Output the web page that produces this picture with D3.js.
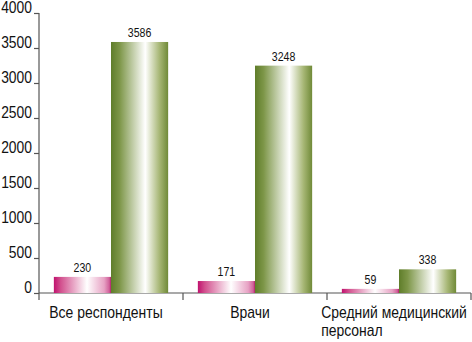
<!DOCTYPE html>
<html lang="ru">
<head>
<meta charset="UTF-8">
<title>Респонденты</title>
<script src="https://d3js.org/d3.v7.min.js"></script>
<style>
    body { margin: 0; background: #fff; }
    svg { display: block; font-family: "Liberation Sans", Arial, sans-serif; }
    .axis path, .axis line { stroke: #555; stroke-width: 1.2; }
    .ytick { font-size: 16.5px; fill: #111; }
    .xlab { font-size: 17px; fill: #111; }
    .val { font-size: 12px; fill: #111; text-anchor: middle; }
</style>
</head>
<body>
<svg id="chart" width="472" height="342"></svg>
<script>
    const categories = ["Все респонденты", "Врачи", "Средний медицинский персонал"];
    const seriesA = [230, 171, 59];      // розовые столбцы
    const seriesB = [3586, 3248, 338];   // зелёные столбцы
    const yTicks = [0, 500, 1000, 1500, 2000, 2500, 3000, 3500, 4000];

    const data = categories.map((c, i) => ({ cat: c, values: [
        { key: "a", value: seriesA[i] },
        { key: "b", value: seriesB[i] }
    ]}));

    // узкий шрифт: сжимаем текст по горизонтали
    function condense(sel, k) {
        sel.each(function() {
            const w = this.getComputedTextLength();
            d3.select(this).attr("textLength", w * k).attr("lengthAdjust", "spacingAndGlyphs");
        });
    }

    const svg = d3.select("#chart");
    const mLeft = 39, mRight = 471, mTop = 13, mBottom = 293;

    const defs = svg.append("defs");
    const pink = defs.append("linearGradient").attr("id", "gPink");
    [[0, "#c0126e"], [0.12, "#d2508e"], [0.58, "#ffffff"], [0.88, "#e7a2c4"], [0.97, "#d0609a"], [1, "#b02068"]]
        .forEach(s => pink.append("stop").attr("offset", s[0]).attr("stop-color", s[1]));
    const green = defs.append("linearGradient").attr("id", "gGreen");
    [[0, "#5f7d2a"], [0.15, "#7d9648"], [0.6, "#ffffff"], [0.85, "#a6b674"], [1, "#708a38"]]
        .forEach(s => green.append("stop").attr("offset", s[0]).attr("stop-color", s[1]));
    const fills = { a: "url(#gPink)", b: "url(#gGreen)" };

    const x0 = d3.scaleBand().domain(categories).range([mLeft, mRight]).padding(0);
    const x1 = d3.scaleBand().domain(["a", "b"]).range([0, x0.bandwidth()])
        .paddingInner(0).paddingOuter(0.26);
    const y = d3.scaleLinear().domain([0, 4000]).range([mBottom, mTop]);

    // ось Y
    const yAxis = svg.append("g").attr("class", "axis")
        .attr("transform", `translate(${mLeft},0)`)
        .call(d3.axisLeft(y).tickValues(yTicks).tickFormat(d3.format("d"))
            .tickSize(5).tickSizeOuter(0).tickPadding(2));
    yAxis.select(".domain").attr("d", `M0,${mTop}V${mBottom + 7}`);
    yAxis.selectAll("text").attr("class", "ytick").attr("dy", "-0.02em").attr("font-size", null)
        .attr("font-family", null).call(condense, 0.84);

    // ось X
    const xAxis = svg.append("g").attr("class", "axis")
        .attr("transform", `translate(0,${mBottom})`);
    xAxis.append("line").attr("x1", mLeft).attr("x2", mRight).attr("y1", 0).attr("y2", 0);
    xAxis.selectAll(".tk").data(categories).enter().append("line")
        .attr("x1", d => x0(d) + x0.bandwidth()).attr("x2", d => x0(d) + x0.bandwidth())
        .attr("y1", 0).attr("y2", 7);

    const g = svg.selectAll(".grp").data(data).enter().append("g")
        .attr("transform", d => `translate(${x0(d.cat)},0)`);

    g.selectAll("rect").data(d => d.values).enter().append("rect")
        .attr("x", d => x1(d.key))
        .attr("y", d => y(d.value))
        .attr("width", x1.bandwidth())
        .attr("height", d => y(0) - y(d.value))
        .attr("fill", d => fills[d.key]);

    g.selectAll(".val").data(d => d.values).enter().append("text")
        .attr("class", "val")
        .attr("x", d => x1(d.key) + x1.bandwidth() / 2)
        .attr("y", d => y(d.value) - 5)
        .text(d => d.value)
        .call(condense, 0.88);

    // подписи категорий (блок по центру, строки выровнены влево)
    const labelLines = { "Средний медицинский персонал": ["Средний медицинский", "персонал"] };
    const k = 0.82;
    categories.forEach(c => {
        const lines = labelLines[c] || [c];
        const t = svg.append("text").attr("class", "xlab").attr("y", mBottom + 25);
        const spans = lines.map((l, i) => t.append("tspan").attr("dy", i ? 18 : 0).text(l));
        const widths = spans.map(s => s.node().getComputedTextLength() * k);
        const x = x0(c) + x0.bandwidth() / 2 - 5 - d3.max(widths) / 2;
        spans.forEach((s, i) => s.attr("x", x).attr("textLength", widths[i]).attr("lengthAdjust", "spacingAndGlyphs"));
    });
</script>
</body>
</html>
